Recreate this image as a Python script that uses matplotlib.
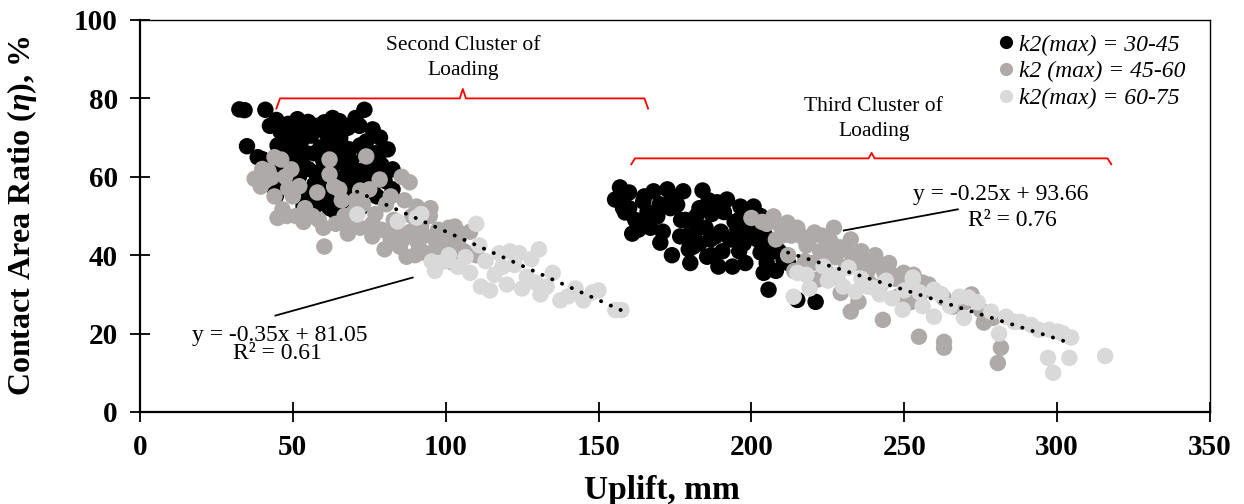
import matplotlib
matplotlib.use("Agg")
import matplotlib.pyplot as plt
import numpy as np
from matplotlib.lines import Line2D

plt.rcParams["font.family"] = ["Liberation Serif", "DejaVu Serif"]
plt.rcParams["mathtext.fontset"] = "custom"
plt.rcParams["mathtext.it"] = "Liberation Serif:italic:bold"
plt.rcParams["mathtext.rm"] = "Liberation Serif:bold"
plt.rcParams["mathtext.bf"] = "Liberation Serif:bold"

# ---- data: uplift (mm) vs contact area ratio (%) ----
k2_30_45_x = [32.5, 34.2, 41.0, 35.0, 38.5, 40.0, 42.5, 44.6, 44.0, 44.5, 46.0, 47.5, 48.5, 50.0,
              51.5, 52.5, 53.0, 54.5, 55.0, 56.0, 57.0, 57.5, 58.0, 59.0, 60.0, 60.3, 61.0, 61.5,
              62.0, 62.5, 63.0, 63.5, 64.0, 65.2, 65.5, 66.0, 66.5, 67.0, 68.0, 68.5, 69.0, 70.0,
              70.5, 71.8, 72.0, 73.4, 73.5, 74.0, 74.5, 75.0, 76.1, 77.0, 77.5, 78.5, 79.0, 80.0,
              81.0, 82.6, 82.6, 53.5, 50.0, 48.0, 46.0, 56.5, 64.0, 58.5, 70.0,
              49.0, 51.0, 53.0, 55.0, 57.0, 59.0, 61.0, 63.0, 64.0, 66.0, 67.0, 69.0, 71.0, 72.0,
              74.0, 76.0, 78.0, 80.0, 45.0, 43.0, 55.0, 58.0, 62.0, 67.0, 71.0, 52.0, 47.0,
              155.4, 157.0, 158.7, 157.5, 160.0, 162.0, 163.0, 164.6, 166.0, 168.0, 169.2, 170.2,
              171.0, 172.5, 173.5, 175.7, 176.7, 177.7, 178.5, 179.5, 181.0, 182.0, 183.0, 184.0,
              185.5, 186.5, 187.0, 188.2, 188.8, 189.2, 190.5, 192.0, 193.8, 194.5, 195.4, 196.4,
              197.5, 198.7, 200.0, 200.7, 202.0, 203.0, 204.0, 204.0, 205.6, 206.9, 208.0, 210.5,
              215.0, 221.0, 174.0, 180.0, 161.0,
              158.0, 160.0, 165.0, 167.0, 170.0, 174.0, 177.0, 179.0, 182.0, 185.0, 186.0, 190.0,
              191.0, 193.0, 196.0, 199.0, 201.0, 203.0, 206.0, 209.0, 212.0, 205.0, 196.0, 187.0,
              183.0, 165.0, 198.0]
k2_30_45_y = [77.2, 77.0, 77.1, 67.8, 65.0, 64.5, 73.0, 74.5, 57.0, 55.2, 71.5, 68.5, 73.5, 65.0,
              74.7, 72.0, 69.5, 66.0, 62.0, 70.5, 58.0, 61.0, 73.0, 67.5, 64.0, 73.9, 71.0, 55.0,
              68.5, 62.0, 75.0, 58.5, 66.0, 74.2, 70.0, 53.5, 63.5, 60.0, 72.5, 67.0, 56.5, 62.0,
              75.0, 73.0, 52.0, 77.1, 65.5, 69.0, 58.5, 61.5, 72.1, 66.0, 55.0, 70.0, 63.0, 67.0,
              67.0, 61.9, 56.8, 52.5, 58.5, 62.0, 66.5, 50.5, 51.0, 55.0, 48.5,
              70.0, 67.0, 63.0, 74.0, 66.0, 60.0, 58.0, 70.0, 72.0, 68.0, 73.0, 64.0, 59.0, 68.0,
              62.0, 57.0, 64.0, 59.0, 68.0, 62.0, 55.0, 53.0, 52.0, 56.0, 55.0, 60.0, 59.0,
              54.2, 57.3, 50.9, 55.5, 52.0, 49.0, 46.5, 53.7, 51.0, 56.3, 49.9, 43.2,
              46.0, 56.8, 52.0, 52.9, 44.8, 56.3, 49.0, 41.5, 42.2, 46.5, 52.0, 56.5,
              39.6, 44.0, 50.5, 44.8, 53.5, 37.1, 41.0, 54.2, 37.1, 48.5, 46.5, 52.4,
              43.0, 45.8, 49.0, 52.4, 44.0, 40.7, 46.5, 35.5, 31.2, 40.9, 36.0, 38.9,
              28.6, 28.1, 40.0, 38.0, 45.5,
              52.0, 56.0, 55.0, 47.0, 53.0, 55.0, 49.0, 45.0, 50.0, 47.0, 54.0, 46.0,
              51.0, 44.0, 49.0, 48.0, 45.0, 50.0, 44.0, 41.0, 38.0, 38.0, 41.0, 40.0,
              43.0, 49.0, 38.0]

k2_45_60_x = [37.5, 39.5, 41.0, 43.0, 42.0, 44.0, 46.2, 47.5, 49.5, 48.5, 52.1, 46.6, 45.0, 48.0,
              51.0, 53.5, 56.4, 58.5, 60.3, 62.0, 62.0, 63.5, 65.2, 66.9, 68.5, 70.5, 72.0, 74.0,
              75.0, 76.0, 77.0, 78.4, 79.0, 80.5, 82.0, 83.0, 85.0, 85.6, 86.5, 87.2, 88.2, 88.5,
              90.5, 91.0, 92.0, 93.5, 94.8, 96.0, 97.5, 99.0, 100.5, 102.3, 103.0, 105.0, 106.0,
              108.0, 110.0, 72.0, 68.0, 80.0,
              40.0, 44.0, 50.0, 54.0, 58.0, 66.0, 70.0, 73.0, 76.0, 82.0, 84.0, 89.0, 93.0, 97.0,
              101.0, 104.0, 86.0, 95.0, 60.0, 64.0, 90.0,
              200.0, 203.5, 207.2, 209.5, 211.8, 213.0, 216.4, 218.0, 220.6, 222.5, 225.9, 227.5,
              230.8, 232.5, 234.0, 236.7, 239.0, 240.5, 243.5, 245.0, 247.0, 249.8, 251.0, 255.4,
              258.0, 262.0, 266.0, 270.0, 276.0, 221.6, 224.0, 229.2, 232.5, 235.0, 243.0, 254.8,
              263.0, 263.0, 281.6, 280.6, 212.0, 208.0, 217.5, 228.0, 238.5, 248.0, 227.0, 214.0,
              205.0, 210.0, 215.0, 219.0, 223.0, 226.0, 229.0, 233.0, 236.0, 238.0, 241.0, 244.0,
              246.0, 250.0, 253.0, 256.0, 259.0, 263.0, 268.0, 272.0, 275.0, 279.0, 220.0, 231.0,
              242.0, 252.0]
k2_45_60_y = [59.5, 57.5, 59.0, 59.8, 61.5, 65.0, 64.4, 60.0, 61.9, 57.0, 57.6, 51.7, 49.5, 50.0,
              50.0, 48.5, 50.0, 49.0, 42.2, 64.4, 60.6, 57.5, 56.8, 50.0, 48.0, 54.0, 47.0, 65.2,
              56.8, 44.8, 50.5, 59.3, 46.5, 53.0, 44.0, 49.0, 42.2, 60.0, 54.0, 39.6, 58.6, 46.0,
              52.4, 43.0, 47.5, 40.5, 50.0, 44.5, 46.5, 42.0, 44.5, 38.1, 47.3, 45.5, 41.0,
              46.0, 40.0, 56.5, 45.5, 41.5,
              62.0, 55.0, 55.0, 52.0, 56.0, 54.0, 51.0, 53.0, 48.0, 55.0, 47.0, 50.0, 45.0, 42.0,
              47.0, 43.0, 44.0, 52.0, 47.0, 48.0, 40.0,
              49.5, 48.5, 49.9, 47.5, 48.3, 45.0, 44.8, 42.5, 45.8, 41.0, 43.5, 39.5,
              41.4, 44.0, 38.0, 38.9, 37.1, 40.0, 35.5, 38.0, 34.0, 35.5, 32.5, 30.4,
              32.5, 30.0, 26.9, 28.0, 22.8, 33.8, 36.5, 30.4, 25.6, 28.1, 23.5, 19.2,
              17.9, 16.4, 16.4, 12.5, 40.0, 44.0, 38.5, 34.5, 33.0, 29.5, 47.0, 36.0,
              48.0, 45.0, 47.0, 44.0, 45.0, 40.0, 42.0, 40.0, 41.0, 36.0, 38.0, 37.0,
              35.0, 33.0, 35.0, 33.0, 31.0, 29.0, 27.0, 30.0, 26.0, 24.0, 38.0, 37.0,
              32.0, 28.0]

k2_60_75_x = [71.1, 84.3, 90.5, 92.0, 95.4, 99.7, 96.5, 101.0, 104.0, 106.5, 110.0, 111.0, 111.5,
              113.0, 114.5, 116.0, 117.5, 118.5, 120.0, 121.0, 122.5, 124.0, 125.0, 126.5, 128.0,
              129.5, 130.5, 131.0, 133.0, 135.0, 137.5, 140.0, 142.5, 145.0, 148.0, 150.0, 155.5,
              157.5, 108.0,
              213.8, 215.0, 223.6, 225.0, 231.8, 234.0, 240.0, 244.0, 249.5, 252.8, 252.8, 255.0,
              259.7, 262.0, 259.7, 268.0, 271.0, 269.5, 278.4, 283.3, 291.5, 297.4, 300.3, 304.6,
              297.0, 298.7, 304.0, 315.7, 246.0, 236.0, 281.0, 288.0, 219.0,
              218.0, 228.0, 238.0, 242.0, 250.0, 256.0, 265.0, 274.0, 286.0, 294.0, 302.0, 230.0]
k2_60_75_y = [50.4, 48.6, 49.6, 50.5, 38.4, 38.4, 36.0, 40.0, 37.0, 39.5, 48.0, 42.5, 32.0,
              38.5, 31.0, 35.0, 40.5, 37.0, 32.5, 41.0, 37.5, 40.5, 31.5, 34.5, 39.0,
              33.0, 41.5, 30.0, 32.0, 35.5, 28.5, 29.5, 31.5, 28.5, 30.5, 31.0, 26.0,
              26.0, 35.5,
              29.4, 35.5, 37.1, 33.5, 36.8, 30.7, 31.7, 33.5, 26.1, 33.8, 34.3, 30.5,
              31.2, 30.0, 24.3, 29.4, 29.2, 24.0, 25.6, 24.3, 22.2, 21.0, 20.5, 19.0,
              13.8, 10.0, 13.8, 14.3, 29.0, 34.0, 20.0, 23.0, 31.5,
              35.0, 35.0, 32.0, 30.0, 31.0, 27.0, 27.0, 28.0, 23.0, 21.0, 20.0, 32.0]

series_labels = ["k2(max) = 30-45", "k2 (max) = 45-60", "k2(max) = 60-75"]
series_colors = ["#000000", "#AEAAAA", "#D9D9D9"]

# linear trendlines for the two loading clusters
trend_slopes = [-0.35, -0.25]
trend_intercepts = [81.05, 93.66]
trend_x_ranges = [(71.0, 158.0), (182.0, 304.0)]
trend_labels = [("y = -0.35x + 81.05", "R² = 0.61"), ("y = -0.25x + 93.66", "R² = 0.76")]

x_ticks = [0, 50, 100, 150, 200, 250, 300, 350]
y_ticks = [0, 20, 40, 60, 80, 100]

fig = plt.figure(figsize=(12.44, 5.04), dpi=100)
ax = fig.add_axes([140 / 1244, 1 - 412 / 504, 1070 / 1244, 392 / 504])

series = [(k2_30_45_x, k2_30_45_y), (k2_45_60_x, k2_45_60_y), (k2_60_75_x, k2_60_75_y)]
for (xs, ys), col, lab in zip(series, series_colors, series_labels):
    ax.scatter(xs, ys, s=140, color=col, edgecolors="none", label=lab, zorder=2)

for m, b, (x0, x1) in zip(trend_slopes, trend_intercepts, trend_x_ranges):
    tx = np.array([x0, x1])
    ax.plot(tx, np.polyval([m, b], tx), color="black", lw=2.8,
            linestyle=(0, (0.05, 2.7)), dash_capstyle="round", zorder=3)

ax.set_xlim(0, 350)
ax.set_ylim(0, 100)
ax.set_xticks(x_ticks)
ax.set_yticks(y_ticks)
ax.tick_params(direction="inout", length=14, width=1.3, labelsize=21, pad=9)
for lbl in ax.get_xticklabels() + ax.get_yticklabels():
    lbl.set_fontweight("bold")
for side in ["left", "bottom"]:
    ax.spines[side].set_linewidth(1.6)
for side in ["top", "right"]:
    ax.spines[side].set_linewidth(1.0)

ax.set_xlabel("Uplift, mm", fontsize=24, fontweight="bold", labelpad=9)
ax.xaxis.set_label_coords((662 - 140) / 1070, -0.2)
ax.xaxis.label.set_verticalalignment("center")
ax.set_ylabel(r"Contact Area Ratio ($\eta$), %", fontsize=23, fontweight="bold")
ax.yaxis.set_label_coords(-(140 - 22) / 1070, 0.5)
ax.yaxis.label.set_verticalalignment("center")

# cluster braces
def brace(x0, x1, xm, y, drop, rise):
    bx = [x0, x0 + 1.2, xm - 1.0, xm, xm + 1.0, x1 - 1.2, x1]
    by = [y - drop, y, y, y + rise, y, y, y - drop]
    ax.plot(bx, by, color="#FF0000", lw=1.3, zorder=4, solid_joinstyle="round")

brace(44.6, 166.2, 105.6, 80.0, 2.6, 2.4)
brace(160.7, 317.7, 239.3, 64.7, 1.5, 1.4)

ax.text(105.6, 90.3, "Second Cluster of\nLoading", ha="center", va="center",
        fontsize=15.5, linespacing=1.4)
ax.text(240.0, 74.8, "Third Cluster of\nLoading", ha="center", va="center",
        fontsize=15.5, linespacing=1.4)

# trendline labels with leader lines
ax.text(45.7, 19.6, trend_labels[0][0], ha="center", va="center", fontsize=17)
ax.text(45.0, 14.8, trend_labels[0][1], ha="center", va="center", fontsize=17)
ax.plot([44.3, 89.2], [24.6, 34.3], color="black", lw=1.3, zorder=4)
ax.text(281.6, 55.5, trend_labels[1][0], ha="center", va="center", fontsize=17)
ax.text(285.5, 48.9, trend_labels[1][1], ha="center", va="center", fontsize=17)
ax.plot([230.2, 267.5], [46.3, 51.7], color="black", lw=1.3, zorder=4)

handles = [Line2D([0], [0], marker="o", linestyle="none", markersize=9.5,
                  markerfacecolor=c, markeredgecolor="none") for c in series_colors]
leg = ax.legend(handles, series_labels, loc="upper left", bbox_to_anchor=(0.785, 1.0),
                frameon=False, handletextpad=0.05, handlelength=1.0, labelspacing=0.22,
                borderaxespad=0.2, prop={"size": 17, "style": "italic"})

fig.savefig("out.png", dpi=100)
